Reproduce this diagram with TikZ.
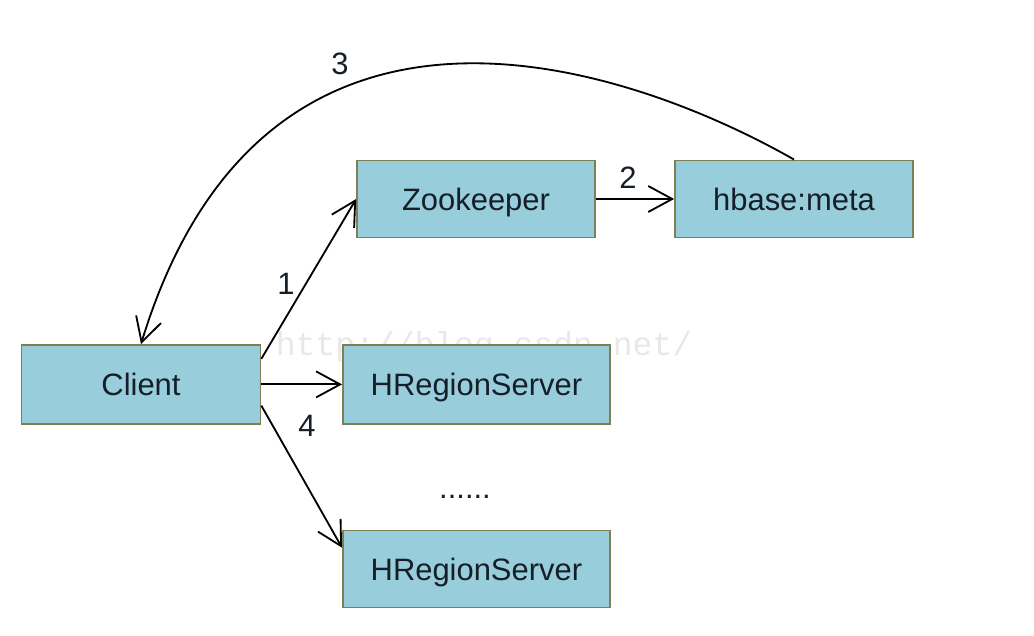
\documentclass[tikz,border=0pt]{standalone}
\usepackage{fontspec}
\setmainfont{Liberation Sans}
\newfontfamily\wmfont{Liberation Mono}
\usetikzlibrary{arrows.meta}
\definecolor{boxblue}{RGB}{152,205,220}
\definecolor{boxline}{RGB}{128,126,84}
\definecolor{txtdark}{RGB}{22,30,40}
\begin{document}
\begin{tikzpicture}[
  box/.style={draw=boxline,fill=boxblue,line width=1.2pt,minimum width=#1,minimum height=1.93cm,inner sep=0pt,
    text height=0.556cm,text depth=0cm,text=txtdark},
  box/.default=5.95cm,
  lbl/.style={text=txtdark},
  every node/.style={font=\fontsize{22}{26}\selectfont},
  conn/.style={line width=1.3pt,-{Straight Barb[length=6mm,width=6.5mm,line width=1.3pt]}}]
  \useasboundingbox(0,0)rectangle(25.85,15.9);
  \node[text=black!9,font=\fontsize{23.5}{26}\wmfont](wm) at (12.1,7.23) {http://blog.csdn.net/};
  % boxes
  \node[box](zk) at (11.9,10.925) {Zookeeper};
  \node[box](meta) at (19.85,10.925) {hbase:meta};
  \node[box=5.975cm,minimum height=1.975cm](client) at (3.525,6.29) {Client};
  \node[box=6.675cm,minimum height=1.975cm](hrs1) at (11.91,6.29) {HRegionServer};
  \node[box=6.675cm](hrs2) at (11.91,1.675) {HRegionServer};
  \node[lbl](dots) at (11.625,3.47) {......};
  % connectors
  \draw[conn](client.12)--(zk.west);
  \draw[conn](zk.east)--(meta.west);
  \draw[conn](meta.north)..controls(16.16,14.02)and(6.71,17.72)..(client.north);
  \draw[conn](client.east)--(hrs1.west);
  \draw[conn](client.-10)--(hrs2.171);
  % labels
  \node[lbl](l1) at (7.15,8.8) {1};
  \node[lbl](l2) at (15.7,11.45) {2};
  \node[lbl](l3) at (8.5,14.3) {3};
  \node[lbl](l4) at (7.675,5.25) {4};
\end{tikzpicture}
\end{document}
